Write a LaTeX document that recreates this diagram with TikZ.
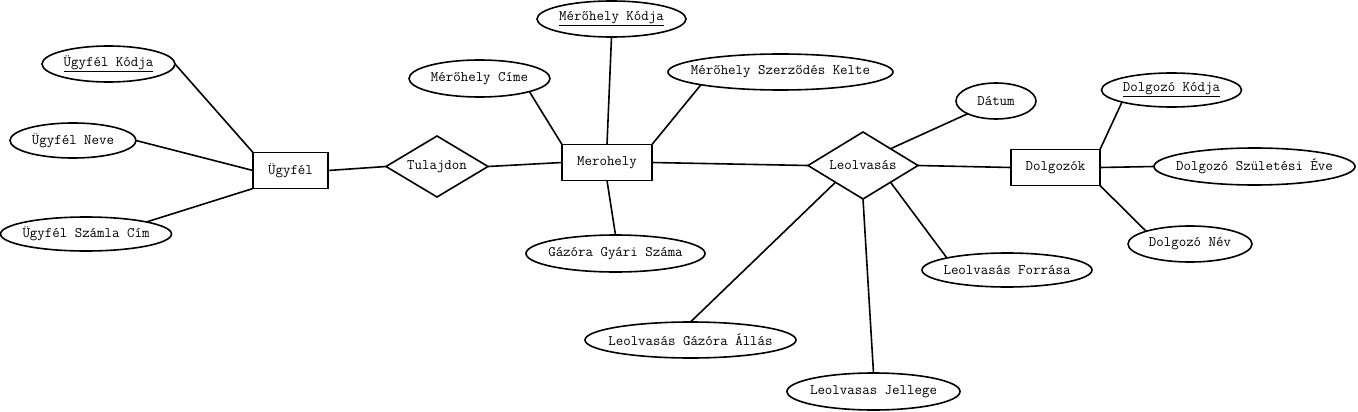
\documentclass[tikz,border=0pt]{standalone}
\usepackage{fontspec}
\usetikzlibrary{positioning,shapes.geometric}

\begin{document}
\begin{tikzpicture}[
    x=1pt, y=-1pt,
    line width=1.6pt,
    every node/.style={font=\ttfamily\fontsize{14.5}{16}\selectfont, inner sep=0pt, outer sep=0pt},
    flattext/.style={execute at begin node={\hbox to 0pt\bgroup\hss}, execute at end node={\hss\egroup}},
    entity/.style={draw, rectangle, flattext, minimum width=#1, minimum height=36pt},
    rel/.style 2 args={draw, diamond, flattext, minimum width=#1, minimum height=#2},
    attr/.style 2 args={draw, ellipse, flattext, minimum width=#1, minimum height=#2}
]
\useasboundingbox (0,0) rectangle (1358,412);

% entities and relations
\node[entity=75pt] (ugyfel) at (290.5,170.5) {Ügyfél};
\node[rel={102pt}{61pt}, right=58pt of ugyfel, yshift=4pt] (tulajdon) {Tulajdon};
\node[entity=90pt, right=74pt of tulajdon, yshift=4pt] (merohely) {Merohely};
\node[rel={110pt}{67pt}, right=156pt of merohely, yshift=-3pt] (leolvasas) {Leolvasás};
\node[entity=89pt, right=93pt of leolvasas, yshift=-2pt] (dolgozok) {Dolgozók};

% attributes
\node[attr={133pt}{36pt}] (ukod) at (108.5,64) {\underline{Ügyfél Kódja}};
\node[attr={126pt}{35pt}] (uneve) at (73,140.5) {Ügyfél Neve};
\node[attr={171pt}{34pt}] (uszamla) at (86,234) {Ügyfél Számla Cím};
\node[attr={149pt}{36pt}] (mkod) at (611.5,19) {\underline{Mérőhely Kódja}};
\node[attr={141pt}{37pt}] (mcime) at (479.5,78.5) {Mérőhely Címe};
\node[attr={225pt}{36pt}] (mkelte) at (780.5,72) {Mérőhely Szerződés Kelte};
\node[attr={179pt}{37pt}] (gyari) at (615.5,253.5) {Gázóra Gyári Száma};
\node[attr={80pt}{36pt}] (datum) at (996,101) {Dátum};
\node[attr={211pt}{36pt}] (allas) at (690.5,340) {Leolvasás Gázóra Állás};
\node[attr={173pt}{37pt}] (jellege) at (873.5,391.5) {Leolvasas Jellege};
\node[attr={170pt}{34pt}] (forrasa) at (1007,270) {Leolvasás Forrása};
\node[attr={140pt}{34pt}] (dkod) at (1171.5,90) {\underline{Dolgozó Kódja}};
\node[attr={201pt}{37pt}] (deve) at (1254.5,166.5) {Dolgozó Születési Éve};
\node[attr={124pt}{36pt}] (dnev) at (1190,244) {Dolgozó Név};

% connectors
\draw (ugyfel.east) -- (tulajdon.west);
\draw (tulajdon.east) -- (merohely.west);
\draw (merohely.east) -- (leolvasas.west);
\draw (leolvasas.east) -- (dolgozok.west);

\draw (ukod.east) -- (ugyfel.north west);
\draw (uneve.east) -- (ugyfel.west);
\draw (uszamla.north east) -- (ugyfel.south west);

\draw (mcime.south east) -- (merohely.north west);
\draw (mkod.south) -- (merohely.north);
\draw (mkelte.south west) -- (merohely.north east);
\draw (gyari.north) -- (merohely.south);

\draw (leolvasas.north east) -- (datum.south west);
\draw (leolvasas.south east) -- (forrasa.north west);
\draw (leolvasas.south west) -- (allas.north);
\draw (leolvasas.south) -- (jellege.north);

\draw (dolgozok.north east) -- (dkod.south west);
\draw (dolgozok.east) -- (deve.west);
\draw (dolgozok.south east) -- (dnev.north west);
\end{tikzpicture}
\end{document}
